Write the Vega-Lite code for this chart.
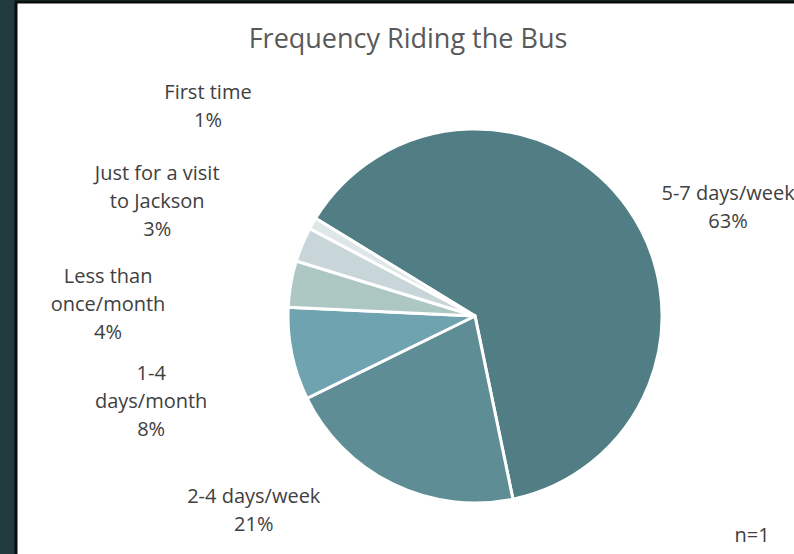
{
  "$schema": "https://vega.github.io/schema/vega-lite/v6.json",
  "width": 918,
  "height": 628,
  "autosize": {"type": "none"},
  "padding": {"left": 16, "top": 2, "right": -140, "bottom": -76},
  "background": "#213a40",
  "config": {
    "view": {"fill": "white", "stroke": "#0d0d0d", "strokeWidth": 3},
    "font": "Open Sans"
  },
  "title": {
    "text": "Frequency Riding the Bus",
    "fontSize": 27,
    "fontWeight": "normal",
    "color": "#595959",
    "anchor": "middle",
    "dx": -67,
    "offset": -73,
    "baseline": "alphabetic"
  },
  "layer": [
    {
      "data": {"name": "slices", "values": [
        {"rank": 1, "category": "5-7 days/week", "pct": 63, "label": "5-7 days/week\n63%"},
        {"rank": 2, "category": "2-4 days/week", "pct": 21, "label": "2-4 days/week\n21%"},
        {"rank": 3, "category": "1-4 days/month", "pct": 8, "label": "1-4\ndays/month\n8%"},
        {"rank": 4, "category": "Less than once/month", "pct": 4, "label": "Less than\nonce/month\n4%"},
        {"rank": 5, "category": "Just for a visit to Jackson", "pct": 3, "label": "Just for a visit\nto Jackson\n3%"},
        {"rank": 6, "category": "First time", "pct": 1, "label": "First time\n1%"}
      ]},
      "encoding": {
        "theta": {"field": "pct", "type": "quantitative", "stack": true, "scale": {"domain": [0, 100], "range": [-1.021, 5.262]}},
        "order": {"field": "rank", "type": "quantitative"}
      },
      "layer": [
        {
          "mark": {"type": "arc", "outerRadius": 187, "stroke": "white", "strokeWidth": 3},
          "encoding": {
            "color": {
              "field": "category",
              "type": "nominal",
              "legend": null,
              "scale": {
                "domain": ["5-7 days/week", "2-4 days/week", "1-4 days/month", "Less than once/month", "Just for a visit to Jackson", "First time"],
                "range": ["#517e85", "#5f8d96", "#70a3b0", "#adc7c2", "#c8d6da", "#dfe6e7"]
              }
            }
          }
        },
        {
          "mark": {
            "type": "text",
            "lineBreak": "\n",
            "fontSize": 20,
            "lineHeight": 28,
            "color": "#404040",
            "align": "center",
            "baseline": "middle",
            "radius": {"expr": "[281, 286, 329, 369, 348, 348][datum.rank - 1]"},
            "thetaOffset": {"expr": "[0.163, 0.429, 0.027, -0.067, 0.027, 0.178][datum.rank - 1]"}
          },
          "encoding": {"text": {"field": "label", "type": "nominal"}}
        }
      ]
    },
    {
      "data": {"values": [{"note": "n=1"}]},
      "mark": {"type": "text", "fontSize": 20, "color": "#404040", "align": "center", "baseline": "middle", "dx": -182, "dy": -94},
      "encoding": {
        "text": {"field": "note", "type": "nominal"},
        "x": {"value": "width"},
        "y": {"value": "height"}
      }
    }
  ]
}
